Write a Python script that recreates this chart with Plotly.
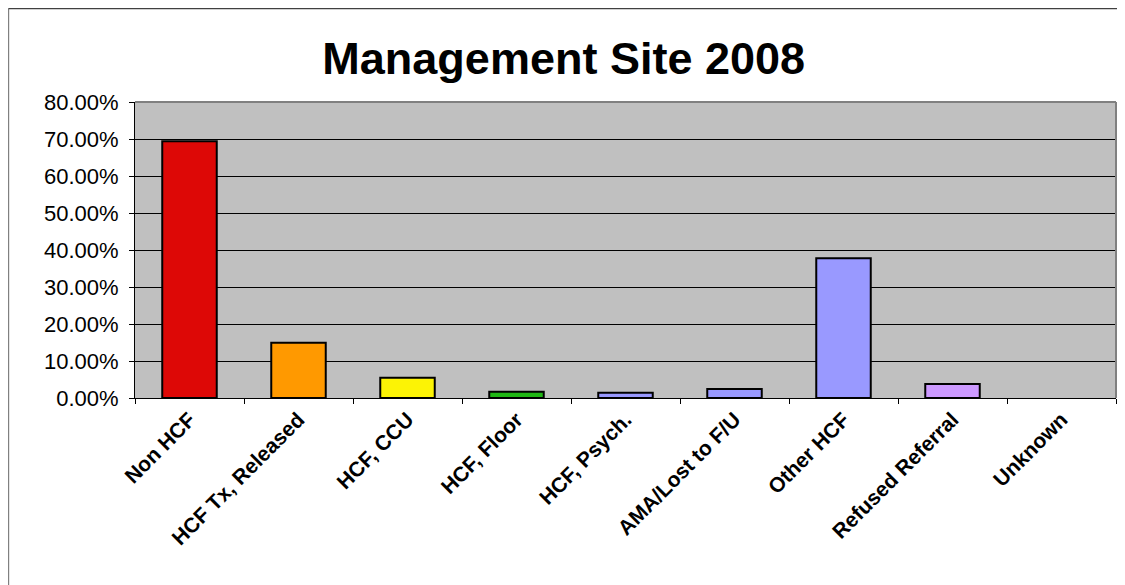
import plotly.graph_objects as go

categories = ['Non HCF', 'HCF Tx, Released', 'HCF, CCU', 'HCF, Floor', 'HCF, Psych.',
              'AMA/Lost to F/U', 'Other HCF', 'Refused Referral', 'Unknown']
shares = [0.694, 0.149, 0.055, 0.017, 0.014, 0.024, 0.378, 0.038, 0.0]
bar_colors = ['#DD0806', '#FF9900', '#FCF305', '#1FB714', '#9999FF',
              '#9999FF', '#9999FF', '#CC99FF', '#9999FF']
y_ticks = [0, 0.1, 0.2, 0.3, 0.4, 0.5, 0.6, 0.7, 0.8]

# empty bar gets no outline
outline_widths = [2 if v > 0 else 0 for v in shares]

fig = go.Figure(go.Bar(
    x=categories,
    y=shares,
    marker=dict(color=bar_colors, line=dict(color='black', width=outline_widths)),
))

# page body has an 8px margin, so the figure is a bit smaller than the window
fig.update_layout(
    width=1117,
    height=577,
    margin=dict(l=127, r=9, t=94, b=187),
    paper_bgcolor='white',
    plot_bgcolor='#C0C0C0',
    bargap=0.5,
    showlegend=False,
    font=dict(family='Liberation Sans, Arial, sans-serif', color='black'),
    title=dict(
        text='<b>Management Site 2008</b>',
        x=0.4975, xref='container', xanchor='center',
        y=0.913, yref='container', yanchor='middle',
        font=dict(size=45, color='black'),
    ),
)

fig.update_yaxes(
    range=[0, 0.8],
    tickvals=y_ticks,
    tickformat='.2%',
    tickfont=dict(size=22),
    ticklabelstandoff=6,
    showgrid=True, gridcolor='black', gridwidth=1,
    showline=True, linecolor='black', linewidth=1,
    ticks='outside', ticklen=5, tickcolor='black',
    zeroline=False,
)

fig.update_xaxes(
    tickangle=-45,
    tickfont=dict(size=21),
    tickprefix='<b>', ticksuffix='</b>',
    showline=True, linecolor='black', linewidth=1,
    ticks='outside', ticklen=5, tickcolor='black',
    tickson='boundaries',
    showgrid=False,
)

# grey border round the plot area (top and right)
fig.add_shape(type='line', xref='paper', yref='paper', x0=0, x1=1, y0=1, y1=1,
              line=dict(color='#808080', width=2))
fig.add_shape(type='line', xref='paper', yref='paper', x0=1, x1=1, y0=0, y1=1,
              line=dict(color='#808080', width=2))

# outer chart frame (left and top edges)
fig.add_shape(type='line', xref='paper', yref='paper', x0=-0.1290, x1=-0.1290, y0=-0.65, y1=1.316,
              line=dict(color='#808080', width=1.5))
fig.add_shape(type='line', xref='paper', yref='paper', x0=-0.1290, x1=1.02, y0=1.316, y1=1.316,
              line=dict(color='#404040', width=1.5))

fig.write_html('out.html')
